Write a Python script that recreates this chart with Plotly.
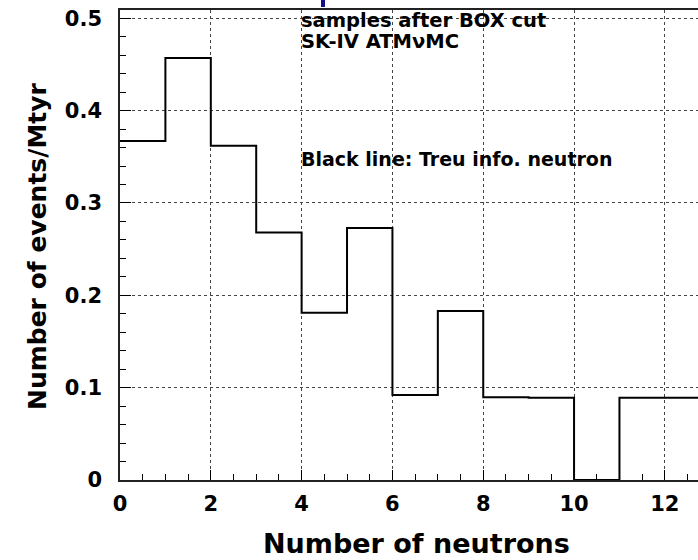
import plotly.graph_objects as go

# Data: histogram of number of neutrons (bin edges 0..13)
bin_edges = list(range(0, 14))
events_per_mtyr = [0.367, 0.457, 0.362, 0.268, 0.181, 0.273, 0.092,
                   0.183, 0.0897, 0.0892, 0.0, 0.089, 0.089]
x_tick_step = 2
y_tick_step = 0.1
x_minor_step = 0.5
y_minor_step = 0.02

FONT = "DejaVu Sans"

# step outline built from edges and bin values
xs = bin_edges
ys = events_per_mtyr + [events_per_mtyr[-1]]

fig = go.Figure()
fig.add_trace(go.Scatter(
    x=xs, y=ys, mode="lines", line=dict(color="black", width=2, shape="hv"),
    hoverinfo="skip", showlegend=False))

W, H = 698, 560
L, R, T, B = 120, 0, 10, 80
pw, ph = W - L - R, H - T - B


def px2paper(px, py):
    return (px - L) / pw, (H - B - py) / ph


fig.update_layout(
    width=W, height=H,
    margin=dict(l=L, r=R, t=T, b=B, pad=0),
    paper_bgcolor="white", plot_bgcolor="white",
    showlegend=False,
    font=dict(family=FONT, color="black"),
)

fig.update_xaxes(
    range=[0, 12.73], dtick=x_tick_step,
    ticks="inside", ticklen=10, tickwidth=1, tickcolor="black",
    showline=True, linecolor="#222", linewidth=1.5, mirror=True,
    showgrid=True, gridcolor="#444", griddash="dot", gridwidth=1,
    zeroline=False,
    tickfont=dict(family=FONT, size=21, weight="bold", color="black"),
    ticklabelstandoff=4,
    minor=dict(dtick=x_minor_step, ticks="inside", ticklen=6, tickwidth=1,
               tickcolor="black"),
)
fig.update_yaxes(
    range=[0, 0.509], dtick=y_tick_step,
    ticks="inside", ticklen=11, tickwidth=1, tickcolor="black",
    showline=True, linecolor="#222", linewidth=1.5, mirror=False,
    showgrid=True, gridcolor="#444", griddash="dot", gridwidth=1,
    zeroline=False,
    tickfont=dict(family=FONT, size=21, weight="bold", color="black"),
    ticklabelstandoff=12,
    minor=dict(dtick=y_minor_step, ticks="inside", ticklen=6, tickwidth=1,
               tickcolor="black"),
)

ann_font = dict(family=FONT, size=19.5, color="black", weight="bold")
fig.add_annotation(x=3.95, y=0.498, xref="x", yref="y", text="samples after BOX cut",
                   showarrow=False, xanchor="left", yanchor="middle", font=ann_font)
fig.add_annotation(x=3.95, y=0.4745, xref="x", yref="y", text="SK-IV ATMνMC",
                   showarrow=False, xanchor="left", yanchor="middle", font=ann_font)
fig.add_annotation(x=3.95, y=0.3476, xref="x", yref="y",
                   text="Black line: Treu info. neutron",
                   showarrow=False, xanchor="left", yanchor="middle",
                   font=dict(family=FONT, size=19, color="black", weight="bold"))

# axis titles
xt = px2paper(416, 543)
fig.add_annotation(x=xt[0], y=xt[1], xref="paper", yref="paper",
                   text="Number of neutrons", showarrow=False,
                   xanchor="center", yanchor="middle",
                   font=dict(family=FONT, size=27, weight="bold", color="black"))
yt = px2paper(37, 246)
fig.add_annotation(x=yt[0], y=yt[1], xref="paper", yref="paper",
                   text="Number of events/Mtyr", showarrow=False, textangle=-90,
                   xanchor="center", yanchor="middle",
                   font=dict(family=FONT, size=25, weight="bold", color="black"))

# small dark-blue mark at top edge
b0 = px2paper(321, 7)
b1 = px2paper(325, 0)
fig.add_shape(type="rect", xref="paper", yref="paper",
              x0=b0[0], x1=b1[0], y0=b0[1], y1=b1[1],
              fillcolor="#10108c", line=dict(width=0), layer="above")

fig.write_html("out.html")
